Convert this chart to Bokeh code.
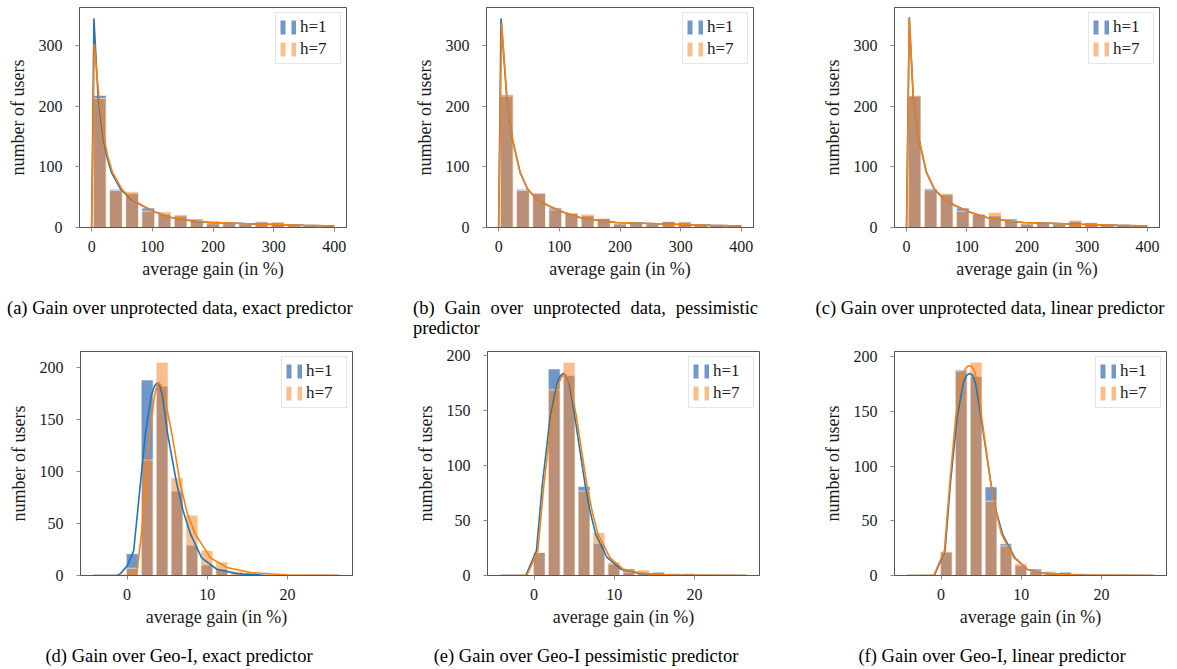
import numpy as np
from bokeh.plotting import figure
from bokeh.models import Range1d, FixedTicker, Legend, LegendItem, Div, Spacer
from bokeh.layouts import row, column
from bokeh.embed import file_html
from bokeh.resources import INLINE

FONT = "Liberation Serif"
BLUE_BAR = "#3a6fb5"
ORANGE_BAR = "#f5892f"
BLUE_LINE = "#1f77b4"
ORANGE_LINE = "#ff7f0e"
SPINE = "#555555"

# ---------------- data: unprotected data (top row) ----------------
TOP_BIN_EDGES = np.linspace(0, 400, 16)          # 15 bins of width 26.7
A_H1 = [218, 63, 56, 32, 22, 19, 14, 6, 9, 6, 10, 8, 3, 4, 2]
A_H7 = [213, 61, 59, 27, 26, 21, 12, 11, 7, 6, 9, 9, 4, 3, 2]
B_H1 = [219, 63, 56, 32, 23, 19, 15, 6, 9, 6, 10, 8, 4, 4, 2]
B_H7 = [217, 61, 57, 29, 24, 22, 15, 6, 7, 6, 10, 10, 4, 3, 2]
C_H1 = [218, 64, 54, 32, 22, 19, 14, 6, 9, 6, 10, 8, 4, 4, 2]
C_H7 = [217, 62, 56, 27, 22, 25, 11, 6, 7, 6, 12, 8, 4, 5, 2]

A_H1_CX = [0, 3.8, 10.5, 19.3, 24.8, 32.5, 47.9, 64.4, 83.6, 105.6, 130.4, 163.4, 193.7, 250, 300, 350, 400]
A_H1_CY = [0, 345, 217, 146, 118, 91, 63, 47, 36, 25, 16.5, 11, 8.3, 6.5, 5, 3.5, 2.5]
A_H7_CX = [0, 4.4, 11.8, 20.8, 26.3, 34.3, 50, 66, 84, 105, 130, 163, 194, 250, 300, 350, 400]
A_H7_CY = [0, 303, 217, 146, 118, 91, 63, 47, 36, 25, 17, 11.5, 8.5, 6.5, 5, 3.5, 2.5]

B_H1_CX = [0, 3.9, 13.2, 22.6, 35.3, 47.9, 62.7, 82, 106.8, 134, 167, 194, 250, 300, 350, 400]
B_H1_CY = [0, 345, 217, 146, 91, 63, 47, 36, 25, 16.5, 11, 8.3, 6.5, 5, 3.5, 2.5]
B_H7_CX = [0, 5.0, 13.5, 22.8, 35.5, 48, 63, 82, 107, 134, 167, 194, 250, 300, 350, 400]
B_H7_CY = [0, 337, 217, 146, 91, 63, 47, 36, 25, 16.5, 11, 8.3, 6.5, 5, 3.5, 2.5]

C_H1_CX = [0, 4.5, 11, 20.4, 33, 46.3, 61.7, 81, 105.7, 133, 166, 194, 250, 300, 350, 400]
C_H1_CY = [0, 347, 217, 146, 91, 63, 47, 36, 25, 16.5, 11, 8.3, 6.5, 5, 3.5, 2.5]
C_H7_CX = [0, 4.6, 11.2, 20.6, 33.2, 46.5, 62, 81, 106, 133, 166, 194, 250, 300, 350, 400]
C_H7_CY = [0, 345, 217, 146, 91, 63, 47, 36, 25, 16.5, 11, 8.3, 6.5, 5, 3.5, 2.5]

# ---------------- data: gain over Geo-I (bottom row) ----------------
GEO_BIN_EDGES_DE = np.round(-0.28 + 1.86 * np.arange(15), 2)   # 14 bins
GEO_BIN_EDGES_F = np.round(-2.14 + 1.86 * np.arange(16), 2)    # 15 bins
D_H1 = [21, 188, 182, 81, 29, 10, 6, 1, 1, 0, 0, 0, 0, 0]
D_H7 = [7, 111, 205, 94, 58, 24, 13, 4, 3, 1, 2, 0, 0, 1]
E_H1 = [21, 188, 182, 81, 29, 10, 6, 2, 3, 0, 0, 0, 0, 0]
E_H7 = [21, 169, 194, 77, 39, 12, 3, 5, 1, 2, 2, 0, 0, 0]
F_H1 = [0, 21, 188, 182, 81, 29, 9, 6, 1, 3, 0, 0, 0, 0, 0]
F_H7 = [1, 22, 187, 195, 68, 27, 11, 4, 4, 0, 2, 0, 0, 0, 0]

D_H1_CX = [-4.2, -2, -1.25, -0.83, 0, 0.83, 1.66, 2.28, 3.0, 3.4, 3.74, 4.1, 4.4, 5.06, 6.2, 7.0, 7.9, 9.3, 11.2, 13.7, 17, 22, 26.5]
D_H1_CY = [0, 0, 0.3, 1.8, 9, 23.7, 88, 136, 172, 182, 185, 182, 173, 136, 88, 62, 40, 17, 6, 1.8, 0.3, 0, 0]
D_H7_CX = [-4.2, 0, 0.8, 1.25, 1.8, 2.28, 2.82, 3.4, 3.7, 3.94, 4.25, 4.6, 5.6, 6.64, 7.5, 8.5, 10.4, 12.45, 15.4, 20, 26.5]
D_H7_CY = [0, 0, 0.5, 4.5, 40, 88, 136, 172, 182, 185.6, 183, 175, 136, 88, 60, 40, 17, 7.7, 2.9, 0.5, 0]

E_H1_CX = [-4.2, -1.03, 0.3, 1.04, 2.0, 2.9, 3.3, 3.66, 4.0, 4.4, 5.1, 6.35, 7.0, 7.68, 9.1, 10.8, 13.1, 17, 26.5]
E_H1_CY = [0, 0, 22.5, 83.3, 143.8, 176, 182, 184, 182, 175, 143.8, 83.3, 58, 37.7, 16.4, 5.8, 1.9, 0.3, 0]
E_H7_CX = [-4.2, -0.9, 0.47, 1.24, 2.2, 3.05, 3.45, 3.8, 4.15, 4.55, 5.3, 6.56, 7.25, 7.97, 9.45, 11.1, 13.5, 17, 26.5]
E_H7_CY = [0, 0, 22.5, 83.3, 143.8, 175, 181, 182.8, 181, 174, 143.8, 83.3, 58, 37.7, 16.4, 5.8, 1.9, 0.3, 0]

F_H1_CX = [-4.2, -0.83, 0.5, 1.16, 2.0, 2.8, 3.2, 3.57, 3.95, 4.3, 4.98, 6.23, 6.9, 7.68, 9.2, 10.8, 12.9, 17, 26.5]
F_H1_CY = [0, 0, 22.6, 83.6, 144.5, 177, 183, 184.7, 183, 176, 144.5, 83.6, 58, 37.5, 16.2, 5.5, 1.9, 0.3, 0]
F_H7_CX = [-4.2, -0.9, 0.42, 1.08, 1.83, 2.4, 2.95, 3.25, 3.53, 3.8, 4.1, 4.65, 5.06, 6.23, 6.85, 7.55, 9.1, 10.8, 12.9, 17, 26.5]
F_H7_CY = [0, 0, 22.6, 83.6, 144.5, 175, 188, 191, 191.8, 191, 188, 175, 144.5, 83.6, 58, 37.5, 16.2, 5.5, 1.9, 0.3, 0]

TOP_XTICKS = [0, 100, 200, 300, 400]
TOP_YTICKS = [0, 100, 200, 300]
GEO_XTICKS = [0, 10, 20]
GEO_YTICKS = [0, 50, 100, 150, 200]

CAPTIONS = [
    "(a) Gain over unprotected data, exact predictor",
    "(b) Gain over unprotected data, pessimistic predictor",
    "(c) Gain over unprotected data, linear predictor",
    "(d) Gain over Geo-I, exact predictor",
    "(e) Gain over Geo-I pessimistic predictor",
    "(f) Gain over Geo-I, linear predictor",
]
X_LABEL = "average gain (in %)"
Y_LABEL = "number of users"
LEGEND_LABELS = ["h=1", "h=7"]
NO_POINT = [float("nan")]   # legend-handle proxies draw nothing in the plot area


def panel(edges, h1, h7, c1, c7, xr, yr, xticks, yticks, width, height, left, right, top, bottom):
    p = figure(width=width, height=height, x_range=Range1d(*xr), y_range=Range1d(*yr),
               output_backend="svg", toolbar_location=None,
               min_border_left=left, min_border_right=right,
               min_border_top=top, min_border_bottom=bottom)
    edges = np.asarray(edges, dtype=float)
    centers = (edges[:-1] + edges[1:]) / 2
    widths = 0.8 * np.diff(edges)
    n1, n7 = len(h1), len(h7)
    p.vbar(x=centers[:n1], top=h1, bottom=0, width=widths[:n1],
           fill_color=BLUE_BAR, fill_alpha=0.72, line_color="white", line_alpha=0.6, line_width=1)
    p.vbar(x=centers[:n7], top=h7, bottom=0, width=widths[:n7],
           fill_color=ORANGE_BAR, fill_alpha=0.55, line_color="white", line_alpha=0.6, line_width=1)
    p.line(c1[0], c1[1], line_color=BLUE_LINE, line_width=1.6)
    p.line(c7[0], c7[1], line_color=ORANGE_LINE, line_width=1.6)

    # legend handles: two small bars (thick dashed line proxy)
    k1 = p.line(x=NO_POINT, y=NO_POINT, line_color=BLUE_BAR, line_alpha=0.72, line_width=14, line_dash="5 6")
    k7 = p.line(x=NO_POINT, y=NO_POINT, line_color=ORANGE_BAR, line_alpha=0.55, line_width=14, line_dash="5 6")

    p.xgrid.visible = False
    p.ygrid.visible = False
    p.outline_line_color = SPINE
    p.outline_line_width = 1
    p.xaxis.ticker = FixedTicker(ticks=xticks)
    p.yaxis.ticker = FixedTicker(ticks=yticks)
    for ax in (p.xaxis, p.yaxis):
        ax.axis_line_color = SPINE
        ax.major_tick_line_color = "#8a8a8a"
        ax.major_tick_in = 0
        ax.major_tick_out = 4
        ax.minor_tick_line_color = None
        ax.major_label_text_font = FONT
        ax.major_label_text_font_size = "16px"
        ax.major_label_text_color = "#1a1a1a"
        ax.axis_label_text_font = FONT
        ax.axis_label_text_font_size = "18px"
        ax.axis_label_text_font_style = "normal"
        ax.axis_label_text_color = "#1a1a1a"
    p.xaxis.axis_label = X_LABEL
    p.yaxis.axis_label = Y_LABEL
    p.xaxis.major_label_standoff = 9
    p.xaxis.axis_label_standoff = 4
    p.yaxis.major_label_standoff = 13
    p.yaxis.axis_label_standoff = 8

    legend = Legend(items=[LegendItem(label=LEGEND_LABELS[0], renderers=[k1]),
                           LegendItem(label=LEGEND_LABELS[1], renderers=[k7])],
                    location="top_right", margin=5, padding=4, spacing=2,
                    glyph_width=16, glyph_height=20, label_height=20, label_width=36,
                    label_standoff=4, label_text_font=FONT, label_text_font_size="17px",
                    label_text_color="#1a1a1a",
                    border_line_color="#cccccc", border_line_width=1,
                    background_fill_color="white", background_fill_alpha=0.85)
    p.add_layout(legend)
    return p


TOP_X = (-20, 420)
TOP_Y = (0, 363)
GEO_X = (-5.8, 28.1)

pa = panel(TOP_BIN_EDGES, A_H1, A_H7, (A_H1_CX, A_H1_CY), (A_H7_CX, A_H7_CY), TOP_X, TOP_Y,
           TOP_XTICKS, TOP_YTICKS, 405, 298, 79, 59, 7, 71)
pb = panel(TOP_BIN_EDGES, B_H1, B_H7, (B_H1_CX, B_H1_CY), (B_H7_CX, B_H7_CY), TOP_X, TOP_Y,
           TOP_XTICKS, TOP_YTICKS, 405, 298, 81, 57, 7, 71)
pc = panel(TOP_BIN_EDGES, C_H1, C_H7, (C_H1_CX, C_H1_CY), (C_H7_CX, C_H7_CY), TOP_X, TOP_Y,
           TOP_XTICKS, TOP_YTICKS, 366, 298, 84, 17, 7, 71)

pd = panel(GEO_BIN_EDGES_DE, D_H1, D_H7, (D_H1_CX, D_H1_CY), (D_H7_CX, D_H7_CY), GEO_X, (0, 215.4),
           GEO_XTICKS, GEO_YTICKS, 405, 308, 80, 53, 13, 71)
pe = panel(GEO_BIN_EDGES_DE, E_H1, E_H7, (E_H1_CX, E_H1_CY), (E_H7_CX, E_H7_CY), GEO_X, (0, 203.9),
           GEO_XTICKS, GEO_YTICKS, 405, 308, 82, 51, 13, 71)
pf = panel(GEO_BIN_EDGES_F, F_H1, F_H7, (F_H1_CX, F_H1_CY), (F_H7_CX, F_H7_CY), GEO_X, (0, 204.8),
           GEO_XTICKS, GEO_YTICKS, 366, 308, 84, 10, 13, 71)


def caption(text, width, height, align, offset=0):
    ws = "normal" if align == "justify" else "nowrap"
    html = (f'<div style="font-family:\'{FONT}\',serif;font-size:18.5px;line-height:20px;'
            f'color:#000;text-align:{align};width:{width}px;white-space:{ws};'
            f'position:relative;top:{offset}px;">{text}</div>')
    return Div(text=html, width=width, height=height, margin=0)


def gap(w, h):
    return Spacer(width=w, height=h, margin=0)


cap_top = row(gap(7, 40), caption(CAPTIONS[0], 345, 40, "center"), gap(61, 40),
              caption(CAPTIONS[1], 345, 40, "justify"), gap(57, 40),
              caption(CAPTIONS[2], 350, 40, "center"))
cap_bot = row(gap(8, 20), caption(CAPTIONS[3], 342, 20, "center"), gap(63, 20),
              caption(CAPTIONS[4], 346, 20, "center"), gap(58, 20),
              caption(CAPTIONS[5], 350, 20, "center"))

layout = column(row(pa, pb, pc), cap_top, row(pd, pe, pf), cap_bot)

open("out.html", "w").write(file_html(layout, INLINE))
